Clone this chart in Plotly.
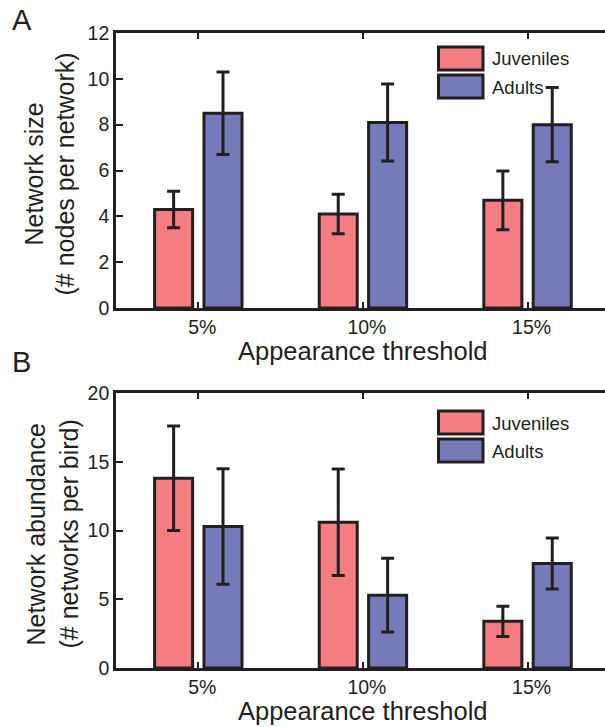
import plotly.graph_objects as go

# ---------------- data ----------------
categories = ["5%", "10%", "15%"]
series_names = ["Juveniles", "Adults"]

size_juv = [4.3, 4.1, 4.7]
size_juv_err = [0.8, 0.86, 1.28]
size_adu = [8.5, 8.1, 8.0]
size_adu_err = [1.8, 1.68, 1.62]

abund_juv = [13.8, 10.6, 3.4]
abund_juv_err = [3.8, 3.87, 1.1]
abund_adu = [10.3, 5.3, 7.6]
abund_adu_err = [4.2, 2.68, 1.85]

panel_labels = ["A", "B"]
ytitles = [["Network size", "(# nodes per network)"],
           ["Network abundance", "(# networks per bird)"]]
xtitle = "Appearance threshold"
yranges = [[0, 12], [0, 20]]
ytickvals = [[0, 2, 4, 6, 8, 10, 12], [0, 5, 10, 15, 20]]

# ---------------- style ----------------
W, H = 605, 727
INK = "#231F20"
PINK = "#F37D80"
BLUE = "#777AB9"
FONT = "Liberation Sans, Arial, Helvetica, sans-serif"

def px(x):
    return x / W

def py(y):
    return 1 - y / H

# panel pixel boxes
xl, xr = 116, 605
panels = [(33, 308), (393, 668)]

fig = go.Figure()

data = [(size_juv, size_juv_err, size_adu, size_adu_err),
        (abund_juv, abund_juv_err, abund_adu, abund_adu_err)]

for i, (jv, je, av, ae) in enumerate(data):
    xa = "x" if i == 0 else "x2"
    ya = "y" if i == 0 else "y2"
    for vals, errs, col, name in [(jv, je, PINK, series_names[0]),
                                  (av, ae, BLUE, series_names[1])]:
        fig.add_trace(go.Bar(
            x=categories, y=vals, name=name, xaxis=xa, yaxis=ya,
            marker=dict(color=col, line=dict(color=INK, width=3)),
            error_y=dict(type="data", array=errs, visible=True,
                         color=INK, thickness=3, width=6.5),
            showlegend=False, offsetgroup=name,
        ))

xrange = [-0.5, 2 + (605 - 527.7) / 164.3]

layout = dict(
    width=W, height=H,
    margin=dict(l=0, r=0, t=0, b=0, pad=0, autoexpand=False),
    paper_bgcolor="white", plot_bgcolor="white",
    barmode="group", bargap=0.4, bargroupgap=0.23,
    font=dict(family=FONT, color=INK, size=19.5),
    showlegend=False,
)

for i, (top, bot) in enumerate(panels):
    sfx = "" if i == 0 else "2"
    ydom = [py(bot), py(top)]
    layout["xaxis" + sfx] = dict(
        domain=[px(xl), px(xr)], anchor="y" + sfx, range=xrange,
        type="category", showline=True, linecolor=INK, linewidth=2.6,
        mirror="ticks", ticks="inside", ticklen=6, tickwidth=2.2,
        tickcolor=INK, showgrid=False, zeroline=False, automargin=False,
        tickfont=dict(size=19.5, color=INK, family=FONT),
        ticklabelstandoff=0, ticklabelshift=4,
    )
    layout["yaxis" + sfx] = dict(
        domain=ydom, anchor="x" + sfx, range=yranges[i],
        tickvals=ytickvals[i], showline=True, linecolor=INK, linewidth=2.6,
        ticks="inside", ticklen=7, tickwidth=2.2, tickcolor=INK,
        showgrid=False, zeroline=False, automargin=False,
        tickfont=dict(size=19.5, color=INK, family=FONT),
        ticklabelstandoff=0,
    )
    # right-side inside ticks (spine itself lies just outside the picture)
    layout["yaxis" + str(i + 3)] = dict(
        domain=ydom, anchor="x" + sfx, overlaying="y" + sfx, side="right",
        range=yranges[i], tickvals=ytickvals[i][1:-1], ticks="inside",
        ticklen=3, tickwidth=2.2, tickcolor=INK, showticklabels=False,
        showline=False, showgrid=False, zeroline=False, automargin=False,
    )

fig.update_layout(**layout)

annotations = []
shapes = []
title_cy = [351, 711]
label_cy = [20, 362]
ytitle_cx = [[34, 65], [35, 68]]
legend_tops = [[47, 75], [411, 439]]
for i, (top, bot) in enumerate(panels):
    annotations.append(dict(text=xtitle, x=px(363), y=py(title_cy[i]),
                            xref="paper", yref="paper", showarrow=False,
                            xanchor="center", yanchor="middle",
                            font=dict(size=25.5, color=INK, family=FONT)))
    annotations.append(dict(text=panel_labels[i], x=px(10), y=py(label_cy[i]),
                            xref="paper", yref="paper", showarrow=False,
                            xanchor="left", yanchor="middle",
                            font=dict(size=29, color=INK, family=FONT)))
    cy = (top + bot) / 2 + 4
    for j, line in enumerate(ytitles[i]):
        annotations.append(dict(text=line, x=px(ytitle_cx[i][j]), y=py(cy),
                                xref="paper", yref="paper", showarrow=False,
                                textangle=-90, xanchor="center", yanchor="middle",
                                font=dict(size=25, color=INK, family=FONT)))
    for k, (name, col) in enumerate(zip(series_names, [PINK, BLUE])):
        t = legend_tops[i][k]
        shapes.append(dict(type="rect", xref="paper", yref="paper",
                           x0=px(438.5), x1=px(483), y0=py(t), y1=py(t + 23),
                           fillcolor=col, line=dict(color=INK, width=3)))
        annotations.append(dict(text=name, x=px(490), y=py(t + 12),
                                xref="paper", yref="paper", showarrow=False,
                                xanchor="left", yanchor="middle",
                                font=dict(size=18.5, color=INK, family=FONT)))

fig.update_layout(annotations=annotations, shapes=shapes)
fig.write_html("out.html")
